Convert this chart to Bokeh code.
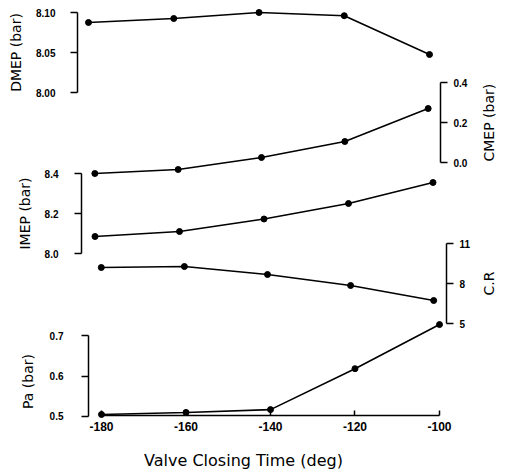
import math
from bokeh.plotting import figure
from bokeh.models import Range1d, LinearAxis, FixedTicker, GridBox, NumeralTickFormatter
from bokeh.embed import file_html
from bokeh.resources import INLINE

# ---------------- data ----------------
valve_time = [-180, -160, -140, -120, -100]
dmep = [8.0875, 8.0925, 8.100, 8.096, 8.0475]
cmep = [-0.055, -0.035, 0.025, 0.105, 0.27]
imep = [8.085, 8.11, 8.1725, 8.25, 8.355]
comp_ratio = [9.2, 9.275, 8.675, 7.85, 6.725]
pa = [0.505, 0.51, 0.517, 0.618, 0.727]

x_ticks = [-180, -160, -140, -120, -100]
x_tick_labels = ["-180", "-160", "-140", "-120", "-100"]
dmep_ticks = [8.00, 8.05, 8.10]
dmep_tick_labels = ["8.00", "8.05", "8.10"]
imep_ticks = [8.0, 8.2, 8.4]
imep_tick_labels = ["8.0", "8.2", "8.4"]
cmep_ticks = [0.0, 0.2, 0.4]
cmep_tick_labels = ["0.0", "0.2", "0.4"]
cr_ticks = [5, 8, 11]
cr_tick_labels = ["5", "8", "11"]
pa_ticks = [0.5, 0.6, 0.7]
pa_tick_labels = ["0.5", "0.6", "0.7"]

W, H = 508, 472
LABEL_FONT = "DejaVu Sans"
TICK_FONT = "Liberation Sans"


def make_fig(xr, yr, left, right, top, bottom):
    p = figure(width=W, height=H, x_range=Range1d(*xr), y_range=Range1d(*yr),
               output_backend="svg", toolbar_location=None,
               min_border_left=left, min_border_right=right,
               min_border_top=top, min_border_bottom=bottom,
               x_axis_location=None, y_axis_location=None)
    p.frame_align = False
    p.grid.visible = False
    p.outline_line_color = None
    p.background_fill_alpha = 0
    p.border_fill_alpha = 0
    return p


def style_axis(ax, ticks, labels, fmt, size="10px", tick_in=0, tick_out=7, standoff=10):
    ax.ticker = FixedTicker(ticks=ticks)
    ax.formatter = NumeralTickFormatter(format=fmt)
    ax.major_label_overrides = dict(zip(ticks, labels))
    ax.minor_tick_line_color = None
    ax.major_tick_in = tick_in
    ax.major_tick_out = tick_out
    ax.axis_line_width = 1.5
    ax.axis_line_color = "black"
    ax.major_tick_line_width = 1.5
    ax.major_tick_line_color = "black"
    ax.major_label_text_font = TICK_FONT
    ax.major_label_text_font_style = "bold"
    ax.major_label_text_font_size = size
    ax.major_label_text_color = "black"
    ax.major_label_standoff = standoff
    ax.axis_label_text_font = LABEL_FONT
    ax.axis_label_text_font_style = "normal"
    ax.axis_label_text_font_size = "14px"
    ax.axis_label_text_color = "black"


def bottom_to_top(ax):
    if "axis_label_orientation" in ax.properties():
        ax.axis_label_orientation = math.pi / 2


def draw(p, y, y_range_name="default"):
    p.line(valve_time, y, line_color="black", line_width=1.6, y_range_name=y_range_name)
    p.scatter(valve_time, y, size=6, color="black", y_range_name=y_range_name)


XR_TOP = (-182.58, -96.25)   # frame x 77..445
XR_MID = (-183.20, -97.04)   # frame x 81..445
XR_LOW = (-183.08, -96.92)   # frame x 88..452

# ---------- DMEP (left) ----------
pD = make_fig(XR_TOP, (7.99, 8.11), 77, 63, 4, 372)
axD = LinearAxis(axis_label="DMEP (bar)", bounds=(8.00, 8.10))
style_axis(axD, dmep_ticks, dmep_tick_labels, "0.00", standoff=15)
axD.axis_label_standoff = 9
pD.add_layout(axD, "left")
draw(pD, dmep)

# ---------- CMEP (right) ----------
pCM = make_fig(XR_MID, (-0.46, 0.47), 81, 63, 68, 218)
axCM = LinearAxis(axis_label="CMEP (bar)", bounds=(0.0, 0.4))
style_axis(axCM, cmep_ticks, cmep_tick_labels, "0.0", standoff=6)
axCM.axis_label_standoff = 19
bottom_to_top(axCM)
pCM.add_layout(axCM, "right")
draw(pCM, cmep)

# ---------- IMEP (left) ----------
pI = make_fig(XR_MID, (8.0, 8.4), 81, 63, 173, 219)
axI = LinearAxis(axis_label="IMEP (bar)", bounds=(8.0, 8.4))
style_axis(axI, imep_ticks, imep_tick_labels, "0.0", standoff=16)
axI.axis_label_standoff = 9
pI.add_layout(axI, "left")
draw(pI, imep)

# ---------- C.R (right) ----------
pCR = make_fig(XR_LOW, (3.2, 11), 88, 56, 243, 125)
axCR = LinearAxis(axis_label="C.R", bounds=(5, 11))
style_axis(axCR, cr_ticks, cr_tick_labels, "0", standoff=6)
axCR.axis_label_standoff = 16
bottom_to_top(axCR)
pCR.add_layout(axCR, "right")
draw(pCR, comp_ratio)

# ---------- Pa (left) ----------
pPa = make_fig(XR_LOW, (0.43086, 0.74198), 88, 56, 318, 28)
axPa = LinearAxis(axis_label="Pa (bar)", bounds=(0.5, 0.7))
style_axis(axPa, pa_ticks, pa_tick_labels, "0.0", standoff=18)
axPa.axis_label_standoff = 11
pPa.add_layout(axPa, "left")
draw(pPa, pa)

# ---------- shared x axis ----------
pX = make_fig((-195.86, -96.92), (0, 1), 34, 56, 300, 56)
axX = LinearAxis(axis_label="Valve Closing Time (deg)", bounds=(-180, -100))
style_axis(axX, x_ticks, x_tick_labels, "0", size="12px", tick_in=5, tick_out=0, standoff=6)
axX.axis_label_standoff = 17
axX.axis_label_text_font_size = "16px"
pX.add_layout(axX, "below")

figs = [pX, pD, pCM, pI, pCR, pPa]
layout = GridBox(children=[(f, 0, 0) for f in figs], width=W, height=H)

open("out.html", "w").write(file_html(layout, INLINE))
